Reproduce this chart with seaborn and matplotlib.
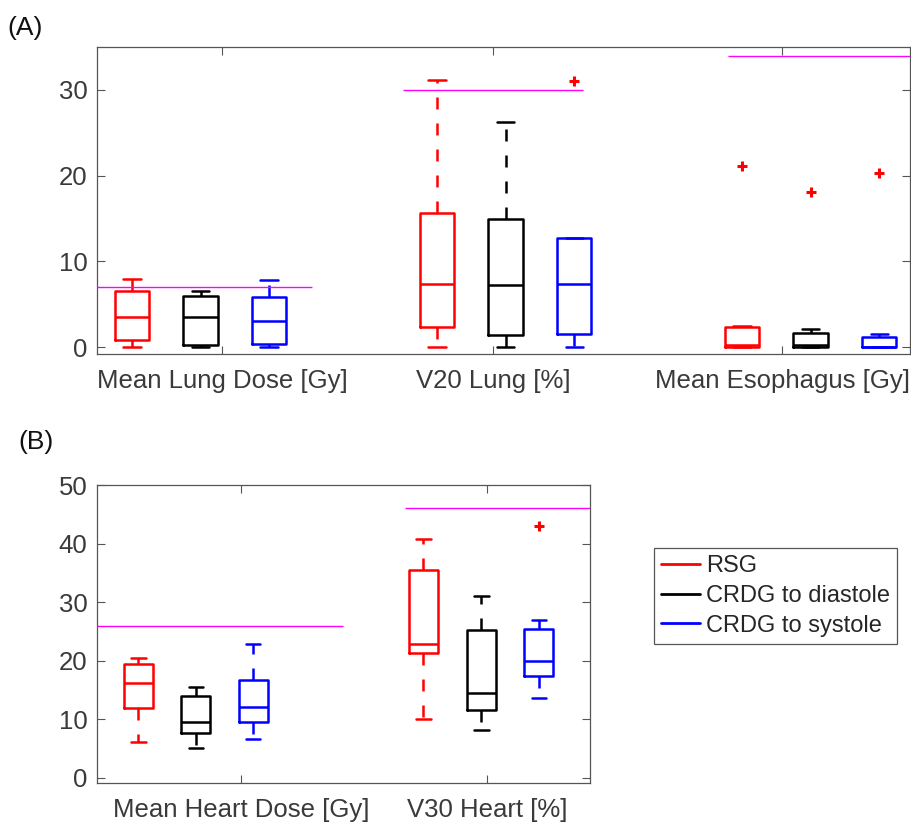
import pandas as pd
import matplotlib
matplotlib.use('Agg')
import matplotlib.pyplot as plt
from matplotlib.lines import Line2D
import seaborn as sns

groups = ['RSG', 'CRDG to diastole', 'CRDG to systole']
palette = {'RSG': '#ff0000', 'CRDG to diastole': '#000000', 'CRDG to systole': '#0000ff'}

# (A) lung + esophagus, each row is one metric: RSG, diastole, systole
metrics_a = ['Mean Lung Dose [Gy]', 'V20 Lung [%]', 'Mean Esophagus [Gy]']
low_a = [[0.0, 0.0, 0.0], [0.0, 0.0, 0.0], [0.0, 0.0, 0.0]]
q1_a = [[0.8, 0.2, 0.35], [2.3, 1.4, 1.5], [0.0, 0.0, 0.0]]
median_a = [[3.5, 3.5, 3.0], [7.4, 7.3, 7.4], [0.3, 0.3, 0.0]]
q3_a = [[6.6, 6.0, 5.8], [15.6, 14.9, 12.7], [2.3, 1.7, 1.2]]
high_a = [[7.9, 6.5, 7.8], [31.2, 26.3, 12.7], [2.5, 2.1, 1.5]]
outliers_a = [(1, 2, 31.0), (2, 0, 21.1), (2, 1, 18.1), (2, 2, 20.3)]
limits_a = [7.0, 30.0, 34.0]

# (B) heart
metrics_b = ['Mean Heart Dose [Gy]', 'V30 Heart [%]']
low_b = [[6.1, 5.1, 6.6], [10.1, 8.1, 13.7]]
q1_b = [[11.9, 7.7, 9.5], [21.3, 11.5, 17.4]]
median_b = [[16.2, 9.5, 12.1], [22.9, 14.5, 20.0]]
q3_b = [[19.4, 13.9, 16.7], [35.5, 25.3, 25.4]]
high_b = [[20.5, 15.5, 22.8], [40.7, 31.0, 26.9]]
outliers_b = [(1, 2, 43.0)]
limits_b = [26.0, 46.0]

# layout (box positions, label positions, limit line extents)
layout_a = dict(pos=[[1, 2, 3], [5.45, 6.45, 7.45], [9.9, 10.9, 11.9]],
                ticks=[2.32, 6.27, 10.49], xlim=(0.49, 12.35), ylim=(-0.8, 35),
                yticks=[0, 10, 20, 30],
                spans=[(0.49, 3.62), (4.95, 7.58), (9.69, 12.35)])
layout_b = dict(pos=[[1, 2, 3], [5.96, 6.97, 7.97]],
                ticks=[2.79, 7.07], xlim=(0.28, 8.86), ylim=(-0.9, 50),
                yticks=[0, 10, 20, 30, 40, 50],
                spans=[(0.28, 4.56), (5.64, 8.86)])

sns.set_style('white')
plt.rcParams['font.family'] = ['Liberation Sans', 'DejaVu Sans']
text_grey = '#3a3a3a'
axis_grey = '#555555'


def draw_panel(ax, metrics, low, q1, med, q3, high, outliers, limits, lay):
    rows = []
    for m in range(len(metrics)):
        for g, name in enumerate(groups):
            # five-number summary -> five points, quartiles come out exact
            for v in [low[m][g], q1[m][g], med[m][g], q3[m][g], high[m][g]]:
                rows.append({'pos': lay['pos'][m][g], 'value': v, 'group': name})
    df = pd.DataFrame(rows)

    sns.boxplot(data=df, x='pos', y='value', hue='group', hue_order=groups,
                palette=palette, native_scale=True, fill=False, dodge=False,
                width=0.5, whis=(0, 100), showfliers=False, linewidth=1.8,
                saturation=1, legend=False, ax=ax,
                whiskerprops=dict(linestyle=(0, (4.8, 5.6))))

    ox = [lay['pos'][m][g] for m, g, v in outliers]
    oy = [v for m, g, v in outliers]
    sns.scatterplot(x=ox, y=oy, marker='+', color='#ff0000', s=50,
                    linewidth=2.2, ax=ax, zorder=5)

    for lim, (x0, x1) in zip(limits, lay['spans']):
        ax.hlines(lim, x0, x1, color='#ff00ff', linewidth=1.0, zorder=4)

    ax.set_xlim(*lay['xlim'])
    ax.set_ylim(*lay['ylim'])
    ax.set_xticks(lay['ticks'])
    ax.set_xticklabels(metrics)
    ax.set_yticks(lay['yticks'])
    ax.set_xlabel('')
    ax.set_ylabel('')
    ax.tick_params(direction='in', length=5.5, width=0.8, color=axis_grey,
                   top=True, right=True, bottom=True, left=True,
                   labelsize=18.5, labelcolor=text_grey)
    ax.tick_params(axis='x', pad=11)
    ax.tick_params(axis='y', pad=7)
    for sp in ax.spines.values():
        sp.set_color(axis_grey)
        sp.set_linewidth(0.9)


W, H = 911, 825
fig = plt.figure(figsize=(W / 100, H / 100), dpi=100)
ax_a = fig.add_axes([97 / W, 1 - 354 / H, (910 - 97) / W, (354 - 47) / H])
ax_b = fig.add_axes([97 / W, 1 - 783 / H, (590 - 97) / W, (783 - 485) / H])

draw_panel(ax_a, metrics_a, low_a, q1_a, median_a, q3_a, high_a, outliers_a, limits_a, layout_a)
draw_panel(ax_b, metrics_b, low_b, q1_b, median_b, q3_b, high_b, outliers_b, limits_b, layout_b)

fig.text(7 / W, 1 - 16 / H, '(A)', ha='left', va='top', fontsize=19, color='#111111')
fig.text(18 / W, 1 - 430 / H, '(B)', ha='left', va='top', fontsize=19, color='#111111')

handles = [Line2D([0], [0], color=palette[g], linewidth=2) for g in groups]
leg = fig.legend(handles, groups, loc='upper left', bbox_to_anchor=(654 / W, 1 - 548 / H),
                 fontsize=17, frameon=True, fancybox=False, edgecolor=axis_grey,
                 framealpha=1, handlelength=1.65, handletextpad=0.25,
                 labelspacing=0.33, borderpad=0.3, borderaxespad=0)
leg.get_frame().set_linewidth(0.9)

fig.savefig('out.png', dpi=100)
